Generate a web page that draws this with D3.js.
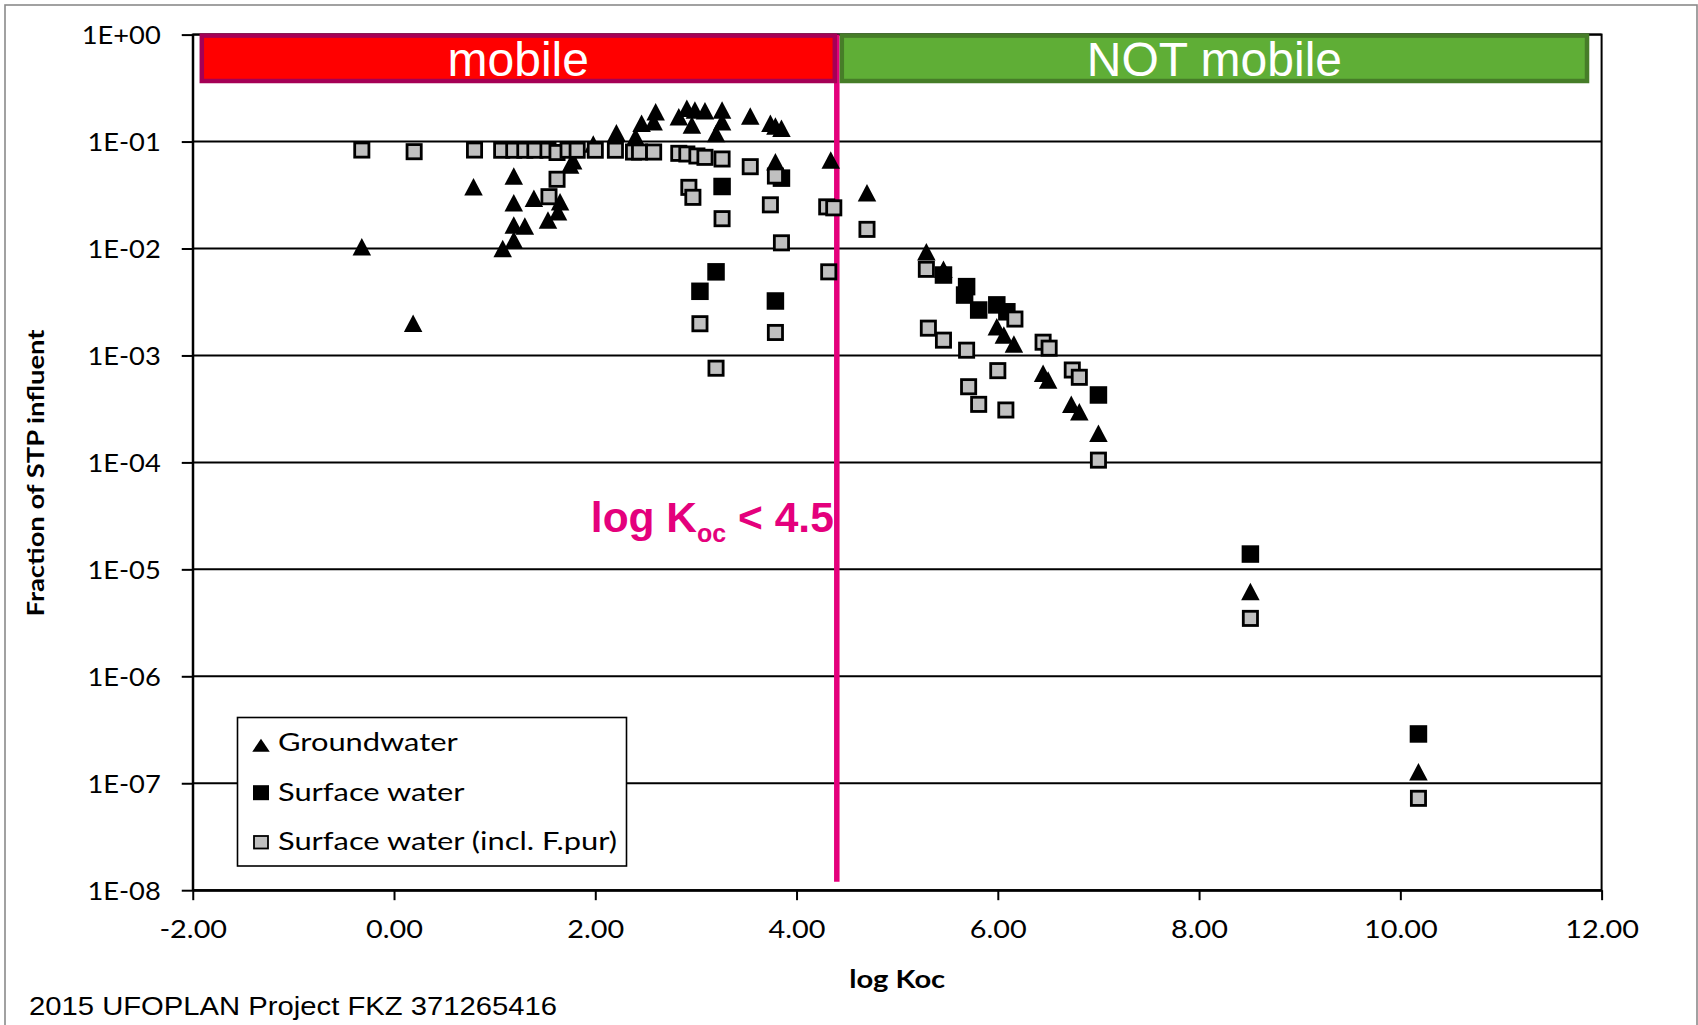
<!DOCTYPE html>
<html><head><meta charset="utf-8">
<script src="https://cdn.jsdelivr.net/npm/d3@7"></script>
<style>body{margin:0;background:#fff;} svg{display:block;}</style>
</head><body>
<svg id="chart" width="1698" height="1025"></svg>
<script>
// ---------------- data ----------------
const xTicks = [-2, 0, 2, 4, 6, 8, 10, 12];
const yTicks = [1, 1e-1, 1e-2, 1e-3, 1e-4, 1e-5, 1e-6, 1e-7, 1e-8];
const yTickLabels = ["1E+00","1E-01","1E-02","1E-03","1E-04","1E-05","1E-06","1E-07","1E-08"];
const seriesNames = ["Groundwater", "Surface water", "Surface water (incl. F.pur)"];
const zoneLabels = ["mobile", "NOT mobile"];
const zoneBounds = [-1.93, 4.4, 11.875];   // logKoc limits of the two zones
const thresholdLabel = ["log K", "oc", " < 4.5"];

// [log Koc, fraction of STP influent]
const groundwater = [
  [-0.32,0.0104],[0.19,0.0020],[0.79,0.0378],[1.08,0.0100],[1.19,0.0476],[1.19,0.0268],
  [1.19,0.0166],[1.19,0.0120],[1.30,0.0162],[1.39,0.0295],[1.53,0.0185],[1.63,0.0221],
  [1.65,0.0274],[1.75,0.0604],[1.78,0.0660],[1.98,0.095],[2.21,0.121],[2.40,0.111],
  [2.46,0.148],[2.58,0.153],[2.60,0.190],[2.83,0.171],[2.91,0.205],[2.96,0.143],
  [2.99,0.197],[3.09,0.194],[3.20,0.119],[3.26,0.197],[3.26,0.153],[3.54,0.173],
  [3.74,0.148],[3.79,0.140],[3.85,0.133],[3.79,0.0648],[4.34,0.0672],[4.70,0.0332],
  [5.29,0.00933],[5.46,0.00638],[5.99,0.00186],[6.06,0.00155],[6.16,0.00128],
  [6.45,0.00068],[6.50,0.00059],[6.73,0.000349],[6.81,0.000298],[7.00,0.000187],
  [8.51,6.2e-6],[10.18,1.28e-7]
];
const surfaceWater = [
  [3.04,0.00398],[3.20,0.00605],[3.26,0.0380],[3.79,0.00323],[3.85,0.0455],
  [5.46,0.00565],[5.69,0.0044],[5.67,0.00367],[5.81,0.00266],[5.99,0.00297],
  [6.09,0.00256],[7.00,0.000427],[8.51,1.39e-5],[10.18,2.89e-7]
];
const surfaceWaterFpur = [
  [-0.32,0.0833],[0.20,0.0804],[0.80,0.0833],[1.07,0.083],[1.19,0.083],[1.30,0.083],
  [1.40,0.083],[1.53,0.083],[1.62,0.079],[1.73,0.083],[1.82,0.083],[2.00,0.083],
  [2.20,0.083],[2.38,0.0798],[2.44,0.0798],[2.58,0.0798],[2.83,0.0776],[2.91,0.0765],
  [3.01,0.0733],[3.09,0.0712],[3.26,0.0687],[3.54,0.0582],[3.79,0.0476],
  [1.62,0.0444],[1.54,0.0305],[2.93,0.0373],[2.97,0.0301],[3.26,0.019],[3.74,0.0256],
  [3.85,0.0113],[4.30,0.0245],[4.37,0.0240],[4.32,0.00605],[3.04,0.00198],[3.79,0.00164],
  [3.20,0.00076],[4.70,0.0151],[5.29,0.00639],[6.17,0.00219],[5.31,0.0018],[5.46,0.00139],
  [5.69,0.00112],[6.45,0.00133],[6.51,0.00117],[6.00,0.000721],[6.74,0.000731],
  [6.81,0.000625],[5.71,0.00051],[5.81,0.000349],[6.08,0.000309],[7.00,0.000105],
  [8.51,3.48e-6],[10.18,7.23e-8]
];
const thresholdLineBottom = 1.2e-8;

// ---------------- layout ----------------
const svg = d3.select("#chart");
const X0 = 192.75, X1 = 1601.6, Y0 = 34.6, Y1 = 890.2;
const x = d3.scaleLinear().domain([xTicks[0], xTicks[xTicks.length-1]]).range([X0, X1]);
const y = d3.scaleLog().domain([1e-8, 1]).range([Y1, Y0]);
const MAGENTA = "#E4007C";
const TICKFONT = "Lato, 'Open Sans', sans-serif";

function fit(sel, factorOrTarget, isTarget) {
  sel.each(function() {
    const w = this.getComputedTextLength();
    const t = isTarget ? factorOrTarget : w * factorOrTarget;
    this.setAttribute("textLength", t);
    this.setAttribute("lengthAdjust", "spacingAndGlyphs");
  });
}

// outer frame
svg.append("rect").attr("x", 5).attr("y", 5).attr("width", 1692).attr("height", 1040)
  .attr("fill", "#fff").attr("stroke", "#8a8a8a").attr("stroke-width", 1.6);

// gridlines
svg.append("g").selectAll("line").data(yTicks).join("line")
  .attr("x1", X0).attr("x2", X1).attr("y1", d => y(d)).attr("y2", d => y(d))
  .attr("stroke", "#000").attr("stroke-width", 2);

// plot border
svg.append("rect").attr("x", X0).attr("y", Y0).attr("width", X1 - X0).attr("height", Y1 - Y0)
  .attr("fill", "none").attr("stroke", "#000").attr("stroke-width", 2);

// x axis
const gx = svg.append("g").attr("transform", `translate(0,${Y1})`)
  .call(d3.axisBottom(x).tickValues(xTicks).tickFormat(d => d.toFixed(2)).tickSizeInner(10).tickSizeOuter(0));
gx.select(".domain").attr("stroke", "#000").attr("stroke-width", 2);
gx.selectAll(".tick line").attr("stroke", "#000").attr("stroke-width", 2);
gx.selectAll(".tick text").attr("y", 48).attr("dy", 0)
  .attr("font-family", TICKFONT).attr("font-size", 25).attr("fill", "#000");
{
  const ref = gx.selectAll(".tick text").filter(d => d === 4).node().getComputedTextLength();
  fit(gx.selectAll(".tick text"), 57 / ref);
}

// y axis
const gy = svg.append("g").attr("transform", `translate(${X0},0)`)
  .call(d3.axisLeft(y).tickValues(yTicks).tickFormat((d, i) => yTickLabels[i]).tickSizeInner(11).tickSizeOuter(0));
gy.select(".domain").attr("stroke", "#000").attr("stroke-width", 2);
gy.selectAll(".tick line").attr("stroke", "#000").attr("stroke-width", 2);
gy.selectAll(".tick text").attr("x", -32).attr("dy", "0.36em")
  .attr("font-family", TICKFONT).attr("font-size", 25.5).attr("fill", "#000");
{
  const ref = gy.selectAll(".tick text").filter(d => d === 1).node().getComputedTextLength();
  fit(gy.selectAll(".tick text"), 79 / ref);
}

// axis titles
const xt = svg.append("text").attr("x", (X0 + X1) / 2).attr("y", 988).attr("text-anchor", "middle")
  .attr("font-family", TICKFONT).attr("font-weight", "bold").attr("font-size", 24).text("log Koc");
fit(xt, 96, true);
const yt = svg.append("text").attr("transform", "translate(44,473) rotate(-90)").attr("text-anchor", "middle")
  .attr("font-family", TICKFONT).attr("font-weight", "bold").attr("font-size", 22.5).text("Fraction of STP influent");
fit(yt, 287, true);

// threshold line
svg.append("line").attr("x1", x(zoneBounds[1])).attr("x2", x(zoneBounds[1]))
  .attr("y1", y(1)).attr("y2", y(thresholdLineBottom))
  .attr("stroke", MAGENTA).attr("stroke-width", 5.5);

// zone boxes
const zoneFill = ["#FF0000", "#5FAE36"], zoneStroke = ["#A50055", "#467D28"];
const boxTop = Y0 + 1, boxBottom = 81;
zoneLabels.forEach((lab, i) => {
  const bx0 = x(zoneBounds[i]) + (i === 1 ? 3 : 0), bx1 = x(zoneBounds[i + 1]);
  svg.append("rect").attr("x", bx0 + 2).attr("y", boxTop).attr("width", bx1 - bx0 - 4).attr("height", boxBottom - boxTop)
    .attr("fill", zoneFill[i]).attr("stroke", zoneStroke[i]).attr("stroke-width", 4.5);
  svg.append("text").attr("x", (bx0 + bx1) / 2).attr("y", 76).attr("text-anchor", "middle")
    .attr("font-family", "'Liberation Sans', Arial, sans-serif").attr("font-size", 48).attr("fill", "#fff").text(lab);
});

// threshold label
const tl = svg.append("text").attr("x", x(zoneBounds[1]) - 3).attr("y", 532).attr("text-anchor", "end")
  .attr("font-family", "'Liberation Sans', Arial, sans-serif").attr("font-weight", "bold")
  .attr("font-size", 42.5).attr("fill", MAGENTA);
tl.append("tspan").text(thresholdLabel[0]);
tl.append("tspan").attr("font-size", 25).attr("dy", 10).text(thresholdLabel[1]);
tl.append("tspan").attr("dy", -10).text(thresholdLabel[2]);

// markers
const TW = 18.5, TH = 17.5;
const triPath = (w, h) => `M0,${-h/2}L${w/2},${h/2}L${-w/2},${h/2}Z`;
svg.append("g").selectAll("path").data(groundwater).join("path")
  .attr("transform", d => `translate(${x(d[0])},${y(d[1])})`)
  .attr("d", triPath(TW, TH)).attr("fill", "#000");
const SB = 17.5;
svg.append("g").selectAll("rect").data(surfaceWater).join("rect")
  .attr("x", d => x(d[0]) - SB / 2).attr("y", d => y(d[1]) - SB / 2)
  .attr("width", SB).attr("height", SB).attr("fill", "#000");
const SG = 17, SW = 2.8;
svg.append("g").selectAll("rect").data(surfaceWaterFpur).join("rect")
  .attr("x", d => x(d[0]) - SG / 2 + SW / 2).attr("y", d => y(d[1]) - SG / 2 + SW / 2)
  .attr("width", SG - SW).attr("height", SG - SW)
  .attr("fill", "#C0C0C0").attr("stroke", "#000").attr("stroke-width", SW);

// legend
const lg = svg.append("g");
lg.append("rect").attr("x", 237.5).attr("y", 717.5).attr("width", 389).attr("height", 148.5)
  .attr("fill", "#fff").attr("stroke", "#000").attr("stroke-width", 1.6);
const rows = [750.7, 800.7, 850];
lg.append("path").attr("transform", `translate(261,${rows[0] - 5.5})`).attr("d", triPath(17.5, 13)).attr("fill", "#000");
lg.append("rect").attr("x", 253).attr("y", rows[1] - 15.5).attr("width", 16).attr("height", 15).attr("fill", "#000");
lg.append("rect").attr("x", 254).attr("y", rows[2] - 14).attr("width", 14).attr("height", 12.5)
  .attr("fill", "#C0C0C0").attr("stroke", "#000").attr("stroke-width", 1.8);
const lt = lg.selectAll("text.lt").data(seriesNames).join("text").attr("class", "lt")
  .attr("x", 278).attr("y", (d, i) => rows[i])
  .attr("font-family", TICKFONT).attr("font-size", 24.5).attr("fill", "#000").text(d => d);
{
  const ref = lt.filter((d, i) => i === 2).node().getComputedTextLength();
  fit(lt, 339 / ref);
}

// footer
const ft = svg.append("text").attr("x", 29).attr("y", 1015)
  .attr("font-family", "'Liberation Sans', Arial, sans-serif").attr("font-size", 26).attr("fill", "#000")
  .text("2015 UFOPLAN Project FKZ 371265416");
fit(ft, 528, true);
</script>
</body></html>
